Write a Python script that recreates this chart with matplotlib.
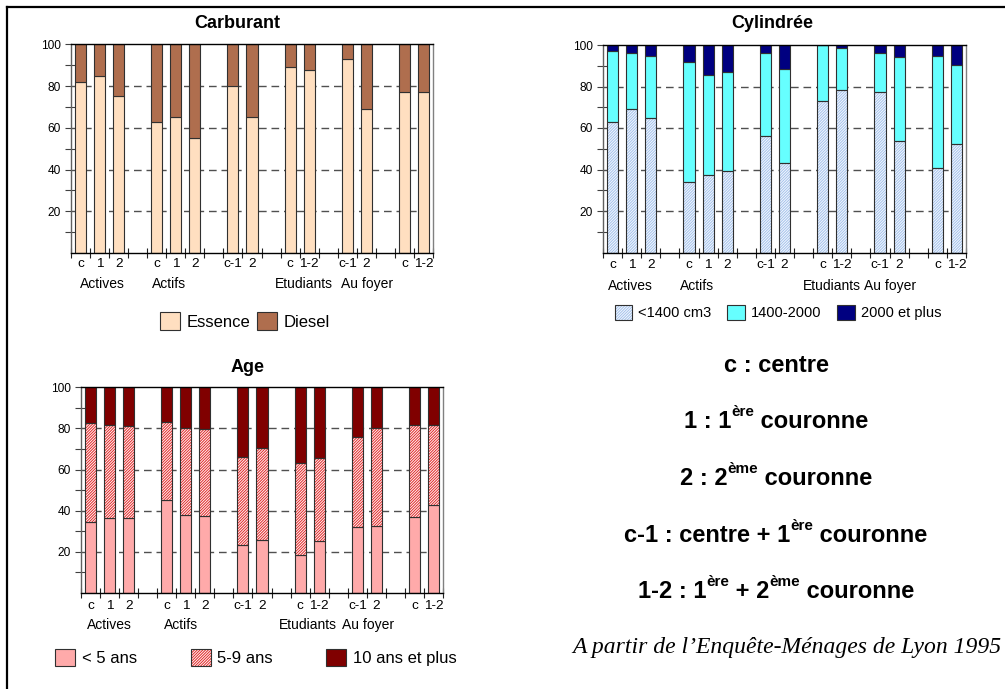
import matplotlib
matplotlib.use("Agg")
import matplotlib.pyplot as plt
from matplotlib.patches import Patch
from matplotlib.lines import Line2D
from matplotlib.ticker import FixedLocator
import numpy as np

plt.rcParams['font.family'] = ['Liberation Sans', 'DejaVu Sans']
plt.rcParams['hatch.linewidth'] = 0.7

W, H = 1005, 689

# ---- categories -------------------------------------------------------
groups = ["Actives", "Actifs", "", "Etudiants", "Au foyer", ""]
zones = [["c", "1", "2"], ["c", "1", "2"], ["c-1", "2"],
         ["c", "1-2"], ["c-1", "2"], ["c", "1-2"]]

# ---- Carburant (%) ----------------------------------------------------
essence = [82, 85, 75, 63, 65, 55, 80, 65, 89, 87.5, 93, 69, 77, 77]
diesel = [18, 15, 25, 37, 35, 45, 20, 35, 11, 12.5, 7, 31, 23, 23]

# ---- Cylindree (%) ----------------------------------------------------
cyl_small = [63, 69, 65, 34, 37.5, 39.5, 56, 43, 73, 78.5, 77.5, 53.5, 40.5, 52.5]
cyl_mid = [34, 27, 29.5, 58, 48, 47.5, 40, 45.5, 27, 20, 18.5, 40.5, 54, 38]
cyl_large = [3, 4, 5.5, 8, 14.5, 13, 4, 11.5, 0, 1.5, 4, 6, 5.5, 9.5]

# ---- Age du vehicule (%) ---------------------------------------------
age_young = [34.5, 36.5, 36.5, 45, 38, 37.5, 23.5, 26, 18.5, 25.5, 32, 32.5, 37, 43]
age_mid = [48, 45, 44.5, 38, 42, 42, 42.5, 44.5, 44.5, 40, 44, 47.5, 44.5, 38.5]
age_old = [17.5, 18.5, 19, 17, 20, 20.5, 34, 29.5, 37, 34.5, 24, 20, 18.5, 18.5]

# slot positions: one empty slot after every group
xpos, xlab, gcent = [], [], []
slot = 0
for g, zs in zip(groups, zones):
    start = slot
    for z in zs:
        xpos.append(slot)
        xlab.append(z)
        slot += 1
    gcent.append((start + slot - 1) / 2)
    slot += 1
xpos = np.array(xpos, dtype=float)
nslots = slot - 1

EDGE = '#303030'
BW = 0.58
HATCH = '////////////'

fig = plt.figure(figsize=(W / 100, H / 100), dpi=100)


def make_axes(left, right, top, bottom):
    return fig.add_axes([left / W, 1 - bottom / H, (right - left) / W, (bottom - top) / H])


def style_axes(ax, cat_off, grp_off, grp_shift):
    ax.set_xlim(-0.5, nslots - 0.5)
    ax.set_ylim(0, 100)
    ax.set_yticks([20, 40, 60, 80, 100])
    ax.yaxis.set_minor_locator(FixedLocator([10, 30, 50, 70, 90]))
    ax.tick_params(axis='y', which='major', direction='out', length=4,
                   width=0.8, labelsize=8.6, pad=3.5, color='#404040')
    ax.tick_params(axis='y', which='minor', direction='inout', length=8,
                   width=0.8, color='#404040')
    ax.set_xticks(xpos)
    ax.set_xticklabels([])
    ax.xaxis.set_minor_locator(FixedLocator(np.arange(-0.5, nslots, 1.0)))
    ax.tick_params(axis='x', which='major', length=0)
    ax.tick_params(axis='x', which='minor', direction='inout', length=7,
                   width=0.8, color='#202020')
    for x, lab in zip(xpos, xlab):
        ax.annotate(lab, xy=(x, 0), xycoords=('data', 'axes fraction'),
                    xytext=(0, -cat_off), textcoords='offset pixels',
                    ha='center', va='center', fontsize=9.7)
    for gx, g, sh in zip(gcent, groups, grp_shift):
        if g:
            ax.annotate(g, xy=(gx + sh, 0), xycoords=('data', 'axes fraction'),
                        xytext=(0, -grp_off), textcoords='offset pixels',
                        ha='center', va='center', fontsize=10)
    for v in [20, 40, 60, 80]:
        ax.axhline(v, color='#505050', lw=1.0, ls=(0, (5.5, 3.5)), zorder=0.5)
    ax.spines['top'].set_color('black')
    ax.spines['bottom'].set_color('black')
    ax.spines['left'].set_color('#606060')
    ax.spines['right'].set_color('#808080')
    for s in ax.spines.values():
        s.set_linewidth(1.0)


def plain_bar(ax, vals, bottom, color):
    ax.bar(xpos, vals, BW, bottom=bottom, color=color, edgecolor=EDGE,
           linewidth=0.8, zorder=2)


def hatched_bar(ax, vals, bottom, face, hcol):
    ax.bar(xpos, vals, BW, bottom=bottom, color=face, edgecolor='none',
           linewidth=0, zorder=2)
    ax.bar(xpos, vals, BW, bottom=bottom, color='none', edgecolor=hcol,
           hatch=HATCH, linewidth=0, zorder=2.1)
    ax.bar(xpos, vals, BW, bottom=bottom, color='none', edgecolor=EDGE,
           linewidth=0.8, zorder=2.2)


def hatched_handle(face, hcol):
    return (Patch(facecolor=face, edgecolor='none', linewidth=0),
            Patch(facecolor='none', edgecolor=hcol, hatch=HATCH, linewidth=0),
            Patch(facecolor='none', edgecolor=EDGE, linewidth=0.8))


def add_legend(handles, labels, cx, cy, fs, colsp):
    fig.legend(handles, labels, loc='center', bbox_to_anchor=(cx / W, 1 - cy / H),
               ncol=len(labels), frameon=False, fontsize=fs,
               handlelength=1.2, handleheight=1.2, handletextpad=0.4,
               columnspacing=colsp, borderpad=0, borderaxespad=0)


# ---- Carburant --------------------------------------------------------
C_ESS, C_DIE = '#FFDFC0', '#AF6E4E'
ax1 = make_axes(71, 433, 44.3, 253)
plain_bar(ax1, essence, 0, C_ESS)
plain_bar(ax1, diesel, essence, C_DIE)
style_axes(ax1, 11, 31, [0.14, -0.36, 0, 0.22, 0.55, 0])
fig.text(237 / W, 1 - 23 / H, "Carburant", ha='center', va='center',
         fontsize=13, fontweight='bold')
add_legend([Patch(facecolor=C_ESS, edgecolor=EDGE, linewidth=0.8),
            Patch(facecolor=C_DIE, edgecolor=EDGE, linewidth=0.8)],
           ["Essence", "Diesel"], 244.5, 321, 12, 0.4)

# ---- Cylindree --------------------------------------------------------
C_SM_FACE, C_SM_HATCH = '#F4F8FF', '#A4C2EA'
C_MID, C_LG = '#66FFFF', '#000080'
ax2 = make_axes(603, 966, 45, 252.5)
hatched_bar(ax2, cyl_small, 0, C_SM_FACE, C_SM_HATCH)
b2 = np.array(cyl_small) + np.array(cyl_mid)
plain_bar(ax2, cyl_mid, cyl_small, C_MID)
plain_bar(ax2, cyl_large, b2, C_LG)
style_axes(ax2, 12.5, 33.5, [-0.04, -0.58, 0, -0.01, 0.02, 0])
fig.text(772 / W, 1 - 23.3 / H, "Cylindrée", ha='center', va='center',
         fontsize=13, fontweight='bold')
add_legend([hatched_handle(C_SM_FACE, C_SM_HATCH),
            Patch(facecolor=C_MID, edgecolor=EDGE, linewidth=0.8),
            Patch(facecolor=C_LG, edgecolor=EDGE, linewidth=0.8)],
           ["<1400 cm3", "1400-2000", "2000 et plus"], 778, 312.5, 10.5, 1.1)

# ---- Age --------------------------------------------------------------
C_YOUNG = '#FFAAAA'
C_MID_FACE, C_MID_HATCH = '#FFF4F4', '#E02828'
C_OLD = '#800000'
ax3 = make_axes(81, 443, 387.3, 593)
plain_bar(ax3, age_young, 0, C_YOUNG)
hatched_bar(ax3, age_mid, age_young, C_MID_FACE, C_MID_HATCH)
b3 = np.array(age_young) + np.array(age_mid)
plain_bar(ax3, age_old, b3, C_OLD)
style_axes(ax3, 13, 32, [0.01, -0.24, 0, -0.07, 0.08, 0])
fig.text(248 / W, 1 - 367 / H, "Age", ha='center', va='center',
         fontsize=13, fontweight='bold')
add_legend([Patch(facecolor=C_YOUNG, edgecolor=EDGE, linewidth=0.8),
            hatched_handle(C_MID_FACE, C_MID_HATCH),
            Patch(facecolor=C_OLD, edgecolor=EDGE, linewidth=0.8)],
           ["< 5 ans", "5-9 ans", "10 ans et plus"], 256, 657.5, 12, 3.2)

# ---- key to the zone codes -------------------------------------------
renderer = fig.canvas.get_renderer()


def rich_line(pieces, cx, baseline, size=17, sup_size=11, rise=12):
    arts, widths = [], []
    for txt, sup in pieces:
        t = fig.text(0, 0, txt, fontsize=sup_size if sup else size,
                     fontweight='bold', ha='left', va='baseline')
        arts.append((t, sup))
        widths.append(t.get_window_extent(renderer).width)
    total = sum(widths)
    x = cx - total / 2
    for (t, sup), w in zip(arts, widths):
        y = baseline - (rise if sup else 0)
        t.set_position((x / W, 1 - y / H))
        x += w


legend_lines = [
    [("c : centre", False)],
    [("1 : 1", False), ("ère", True), (" couronne", False)],
    [("2 : 2", False), ("ème", True), (" couronne", False)],
    [("c-1 : centre + 1", False), ("ère", True), (" couronne", False)],
    [("1-2 : 1", False), ("ère", True), (" + 2", False), ("ème", True), (" couronne", False)],
]
for i, pieces in enumerate(legend_lines):
    rich_line(pieces, 776, 371.7 + i * 56.65)

fig.text(572 / W, 1 - 653 / H, "A partir de l\u2019Enquête-Ménages de Lyon 1995",
         ha='left', va='baseline', fontsize=17, style='italic',
         family=['Liberation Serif', 'DejaVu Serif'])

# outer frame
fig.add_artist(Line2D([6.5 / W, 6.5 / W], [0, 1 - 6.5 / H], transform=fig.transFigure,
                      color='black', lw=1.6))
fig.add_artist(Line2D([6.5 / W, 1], [1 - 6.5 / H, 1 - 6.5 / H], transform=fig.transFigure,
                      color='black', lw=1.6))

fig.savefig("out.png", dpi=100)
